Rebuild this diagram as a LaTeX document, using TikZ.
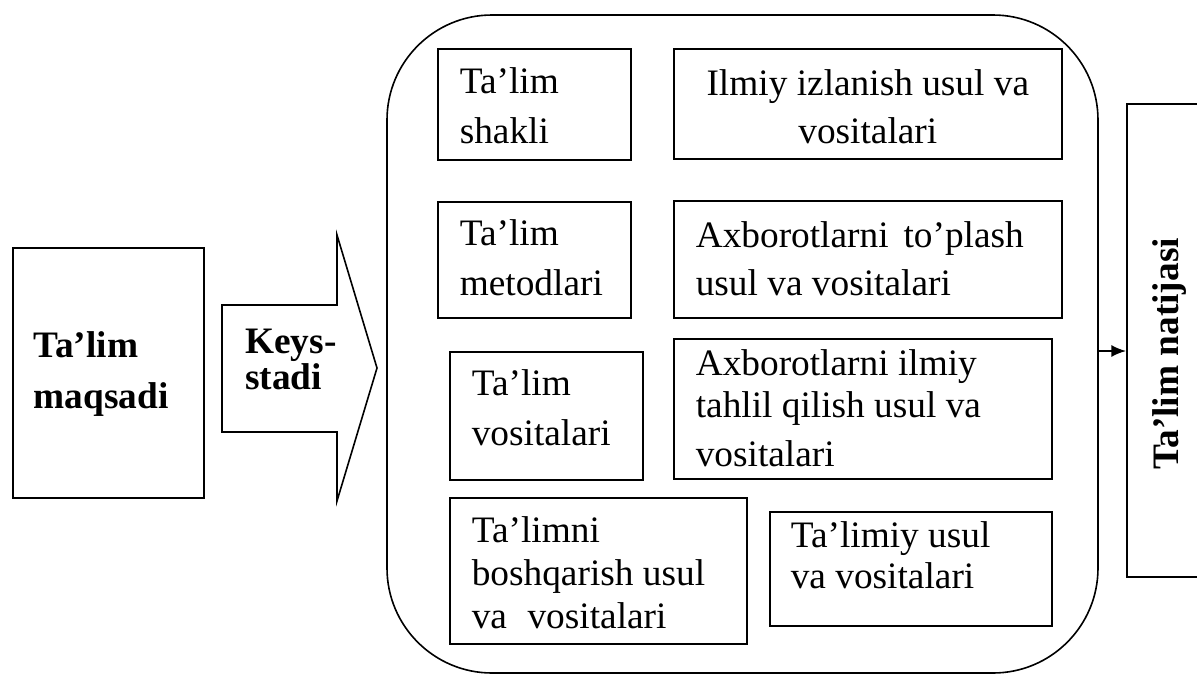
\documentclass[tikz,border=0pt]{standalone}
\usepackage{fontspec}
\setmainfont{Liberation Serif}
\usetikzlibrary{arrows.meta}
\newlength\px \setlength\px{0.75pt}
\newcommand\cellbox[6]{%
\begin{minipage}[t][#2\px][t]{#1\px}\fontsize{28pt}{#5\px}\selectfont\raggedright\setlength\leftskip{#3\px}\rule{0pt}{#4\px}#6\end{minipage}}
\newcommand\cellboxc[5]{%
\begin{minipage}[t][#2\px][t]{#1\px}\fontsize{28pt}{#4\px}\selectfont\centering\rule{0pt}{#3\px}#5\end{minipage}}
\tikzset{
  cell/.style={draw, line width=1.2pt, inner sep=0pt, anchor=north west},
  plaintext/.style={inner sep=0pt, anchor=north west},
  outline/.style={draw, line width=1.2pt}
}
\begin{document}
\begin{tikzpicture}[x=0.75pt, y=-0.75pt]
\useasboundingbox (0,0) rectangle (1197,675);
% left box
\node[cell] (maqsad) at (12,247) {\cellbox{191}{250}{21}{110}{51}{\bfseries Ta’lim\\maqsadi}};
% Keys-stadi arrow
\draw[line width=1.2pt, line join=miter] (222,305) -- (337,305) -- (337,235) -- (377,368) -- (337,501) -- (337,432) -- (222,432) -- cycle;
\node[plaintext] (keys) at (245,309) {\cellbox{110}{100}{0}{44}{36}{\bfseries Keys-\\stadi}};
% big frame
\node[outline, rounded corners=78.75pt, minimum width=533.25pt, minimum height=493.5pt, inner sep=0pt] (frame) at (742.5,344) {};
% inner boxes
\node[cell] (shakli) at (437,48) {\cellbox{193}{111}{22}{45}{50}{Ta’lim\\shakli}};
\node[cell] (ilmiy) at (673,48) {\cellboxc{388}{110}{47}{48}{Ilmiy izlanish usul va\\vositalari}};
\node[cell] (metod) at (437,201) {\cellbox{193}{116}{22}{44}{50}{Ta’lim\\metodlari}};
\node[cell] (toplash) at (673,200) {\cellbox{388}{117}{22}{47}{48}{Axborotlarni\hspace{0.4em}to’plash\\usul va vositalari}};
\node[cell] (vosit) at (449,351) {\cellbox{193}{128}{22}{44}{50}{Ta’lim\\vositalari}};
\node[cell] (tahlil) at (673,338) {\cellbox{378}{140}{22}{37}{42}{Axborotlarni ilmiy\\tahlil qilish usul va\\[7\px]vositalari}};
\node[cell] (boshq) at (449,497) {\cellbox{297}{146}{22}{45}{43}{Ta’limni\\boshqarish usul\\va\hspace{0.55em}vositalari}};
\node[cell] (usul) at (769,511) {\cellbox{282}{114}{21}{36}{41}{Ta’limiy usul\\va vositalari}};
% result box
\node[outline, anchor=north west, minimum width=78pt, minimum height=354.75pt, inner sep=0pt] (result) at (1126,103) {};
\node[rotate=90, font=\fontsize{28pt}{34pt}\selectfont\bfseries] (natija) at (1170,354) {Ta’lim natijasi};
% connector
\draw[line width=1.2pt, -{Latex[length=11pt,width=9pt]}] ([yshift=-5.25pt]frame.east) -- ([yshift=-5.25pt]frame.east -| result.west);
\end{tikzpicture}
\end{document}
